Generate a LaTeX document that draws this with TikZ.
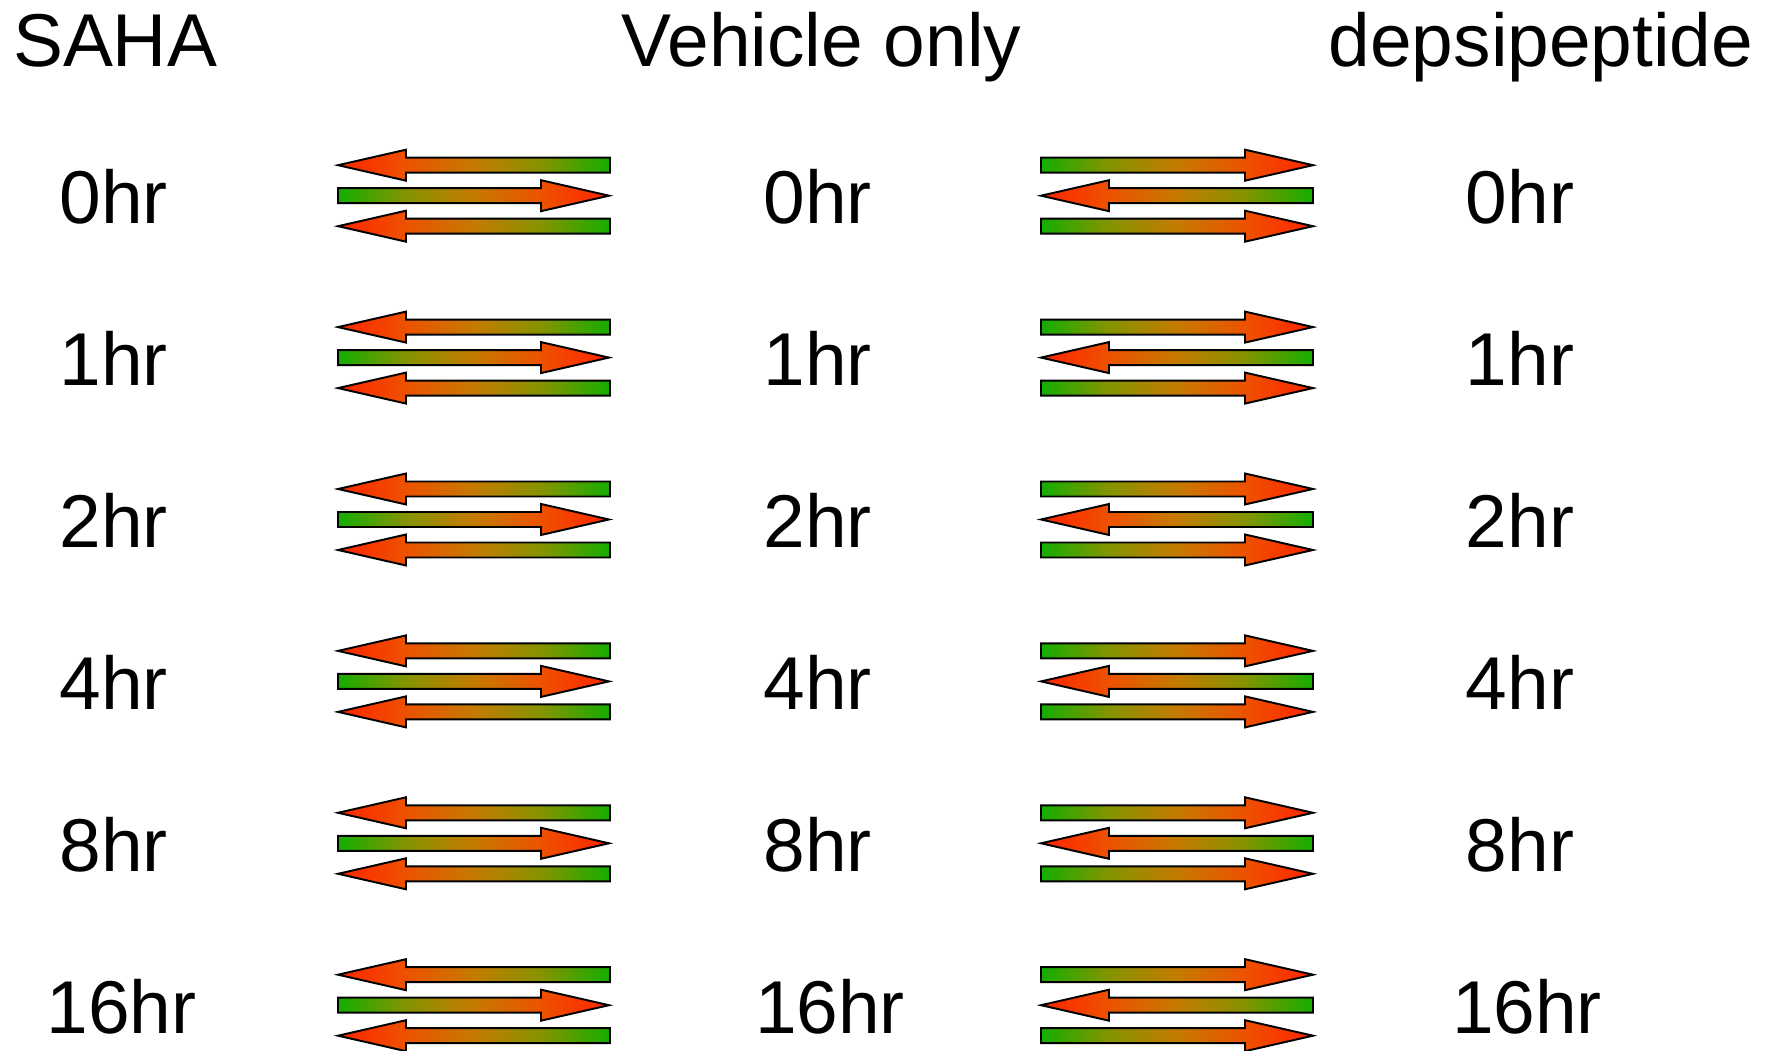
\documentclass[tikz,border=0pt]{standalone}
\usepackage{fontspec}
\setmainfont{Liberation Sans}
\pgfdeclarehorizontalshading{redgreen}{100bp}{%
  rgb(0bp)=(1,0.14,0); rgb(25bp)=(1,0.14,0); rgb(37.5bp)=(0.93,0.32,0);
  rgb(50bp)=(0.77,0.48,0); rgb(62.5bp)=(0.52,0.58,0); rgb(75bp)=(0.08,0.68,0);
  rgb(100bp)=(0.08,0.68,0)}
\pgfdeclarehorizontalshading{greenred}{100bp}{%
  rgb(0bp)=(0.08,0.68,0); rgb(25bp)=(0.08,0.68,0); rgb(37.5bp)=(0.52,0.58,0);
  rgb(50bp)=(0.77,0.48,0); rgb(62.5bp)=(0.93,0.32,0); rgb(75bp)=(1,0.14,0);
  rgb(100bp)=(1,0.14,0)}
\tikzset{
  lbl/.style={anchor=base, inner sep=0pt, font=\fontsize{21.3}{24}\selectfont},
  ttl/.style={anchor=base west, inner sep=0pt, font=\fontsize{21.3}{24}\selectfont},
  arrowline/.style={draw=black, line width=0.55pt, line join=miter},
  pointleft/.style={arrowline, shading=redgreen},
  pointright/.style={arrowline, shading=greenred},
}
% #1 left x, #2 right x, #3 centre y
\newcommand{\leftarrowshape}[3]{%
  \shade[pointleft] (#1,#3) -- ({#1+68},{#3-15.5}) -- ({#1+68},{#3-7.5}) -- (#2,{#3-7.5})
    -- (#2,{#3+7.5}) -- ({#1+68},{#3+7.5}) -- ({#1+68},{#3+15.5}) -- cycle;}
\newcommand{\rightarrowshape}[3]{%
  \shade[pointright] (#2,#3) -- ({#2-68},{#3-15.5}) -- ({#2-68},{#3-7.5}) -- (#1,{#3-7.5})
    -- (#1,{#3+7.5}) -- ({#2-68},{#3+7.5}) -- ({#2-68},{#3+15.5}) -- cycle;}
\begin{document}
\begin{tikzpicture}[x=0.1mm, y=-0.1mm]
\useasboundingbox (0,0) rectangle (1765,1051);
\node[ttl] (saha) at (12.4,66.7) {SAHA};
\node[ttl] (vehicle) at (621,66.5) {Vehicle only};
\node[ttl] (depsi) at (1328,66.7) {depsipeptide};
\foreach \t/\dx [count=\i from 0] in {0hr/0,1hr/0,2hr/0,4hr/0,8hr/0,16hr/1} {
  \pgfmathsetmacro{\yc}{195.7+161.9*\i}
  \node[lbl] (l\i) at ({113.7+7.9*\dx},{\yc+28}) {\t};
  \node[lbl] (m\i) at ({817.5+12.5*\dx},{\yc+28}) {\t};
  \node[lbl] (r\i) at ({1520+7*\dx},{\yc+28}) {\t};
  \leftarrowshape{338}{610}{\yc-30.5}
  \rightarrowshape{338}{609}{\yc}
  \leftarrowshape{338}{610}{\yc+30.5}
  \rightarrowshape{1041}{1313}{\yc-30.5}
  \leftarrowshape{1041}{1313}{\yc}
  \rightarrowshape{1041}{1313}{\yc+30.5}
}
\end{tikzpicture}
\end{document}
